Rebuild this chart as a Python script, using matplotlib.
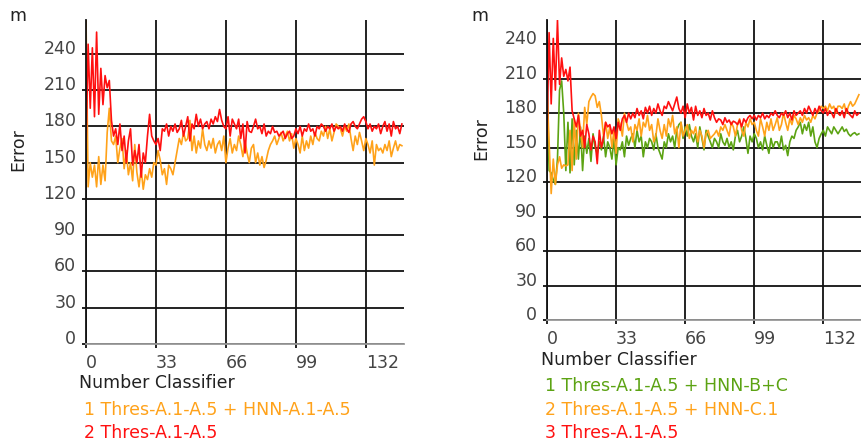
import matplotlib
matplotlib.use('Agg')
import matplotlib.pyplot as plt

# x positions: number of classifiers
x_left = list(range(150))
x_right = list(range(150))

# left chart
left_hnn = [
    270, 130, 150, 138, 148, 130, 155, 132, 148, 135,
    175, 195, 168, 165, 172, 150, 162, 170, 145, 160,
    140, 150, 135, 165, 142, 130, 145, 128, 140, 136,
    145, 138, 150, 148, 160, 152, 140, 145, 132, 148,
    145, 140, 150, 160, 170, 165, 175, 168, 170, 185,
    160, 172, 158, 168, 162, 178, 165, 160, 168, 162,
    170, 158, 165, 168, 160, 172, 150, 162, 170, 158,
    165, 160, 172, 165, 155, 168, 158, 150, 162, 165,
    150, 158, 148, 155, 146, 152, 160, 165, 168, 172,
    165, 170, 175, 168, 172, 176, 168, 174, 162, 170,
    165, 158, 172, 160, 168, 162, 172, 165, 175, 170,
    168, 176, 172, 180, 170, 178, 168, 175, 182, 180,
    178, 172, 180, 176, 182, 170, 160, 172, 165, 175,
    168, 160, 170, 165, 158, 168, 148, 165, 160, 162,
    158, 165, 160, 168, 155, 162, 168, 160, 165, 164,
]
left_thres = [
    162, 248, 195, 245, 188, 258, 190, 228, 198, 222,
    212, 218, 185, 172, 178, 165, 182, 160, 172, 150,
    168, 178, 148, 160, 150, 165, 138, 158, 150, 172,
    190, 172, 168, 165, 170, 160, 178, 176, 182, 172,
    180, 176, 182, 175, 178, 185, 172, 180, 188, 168,
    182, 178, 190, 180, 186, 178, 182, 184, 178, 186,
    182, 188, 184, 194, 185, 180, 178, 188, 172, 186,
    182, 178, 186, 170, 182, 158, 184, 176, 175, 180,
    186, 178, 180, 174, 182, 172, 176, 174, 180, 175,
    176, 172, 174, 176, 170, 174, 176, 170, 172, 178,
    174, 180, 172, 178, 176, 182, 176, 178, 172, 180,
    178, 182, 180, 176, 180, 178, 182, 176, 180, 178,
    180, 176, 182, 178, 175, 182, 184, 180, 178, 182,
    186, 188, 184, 178, 182, 176, 180, 178, 182, 174,
    180, 184, 176, 182, 172, 184, 178, 180, 174, 182,
]

# right chart
right_bc = [
    210, 130, 128, 122, 118, 140, 200, 208, 180, 130,
    172, 128, 175, 135, 165, 140, 168, 130, 160, 145,
    158, 138, 162, 150, 145, 155, 148, 160, 142, 155,
    150, 140, 158, 135, 150, 148, 155, 142, 160, 152,
    158, 162, 150, 165, 155, 160, 142, 155, 150, 158,
    155, 148, 162, 150, 145, 140, 155, 150, 162, 155,
    160, 150, 165, 170, 172, 158, 168, 160, 170, 160,
    155, 162, 150, 168, 158, 148, 165, 160, 155, 150,
    158, 155, 150, 162, 155, 152, 158, 150, 155, 148,
    160, 165, 155, 160, 168, 158, 145, 160, 155, 162,
    158, 150, 155, 148, 160, 152, 145, 158, 150, 155,
    155, 150, 160, 148, 152, 143, 155, 160, 158, 165,
    168, 172, 162, 170, 165, 172, 160, 168, 155, 150,
    158, 162, 165, 160, 168, 165, 162, 168, 165, 162,
    165, 168, 164, 166, 162, 160, 162, 163, 161, 162,
]
right_c1 = [
    200, 155, 110, 140, 118, 135, 142, 132, 135, 134,
    135, 165, 130, 175, 140, 180, 165, 150, 185, 170,
    190, 194, 197, 195, 185, 190, 178, 160, 172, 158,
    168, 150, 165, 145, 175, 170, 160, 180, 172, 165,
    168, 155, 170, 165, 175, 160, 172, 168, 178, 165,
    170, 155, 160, 175, 165, 158, 170, 160, 175, 168,
    178, 162, 168, 150, 172, 160, 165, 170, 158, 165,
    162, 168, 155, 165, 160, 150, 162, 165, 158, 160,
    162, 165, 160, 168, 165, 170, 165, 160, 172, 168,
    160, 170, 175, 165, 160, 172, 168, 175, 170, 172,
    165, 160, 175, 168, 160, 172, 165, 175, 165, 170,
    176, 165, 170, 180, 172, 165, 175, 170, 178, 175,
    170, 176, 172, 178, 174, 176, 172, 178, 175, 180,
    182, 186, 184, 186, 182, 188, 184, 186, 180, 186,
    186, 184, 188, 180, 186, 190, 186, 188, 192, 196,
]
right_thres = [
    160, 250, 188, 245, 200, 261, 205, 228, 212, 218,
    208, 220, 182, 175, 168, 178, 160, 165, 150, 170,
    162, 148, 160, 155, 136, 165, 150, 158, 172, 168,
    170, 162, 168, 158, 172, 165, 175, 178, 172, 180,
    175, 180, 176, 184, 178, 182, 175, 185, 180, 186,
    178, 184, 180, 188, 182, 178, 186, 184, 190, 186,
    182, 188, 194, 184, 180, 186, 176, 188, 180, 185,
    174, 186, 178, 182, 176, 184, 178, 180, 174, 182,
    176, 172, 175, 174, 170, 176, 172, 174, 170, 173,
    172, 170, 174, 168, 175, 172, 176, 178, 175, 178,
    174, 178, 176, 180, 175, 178, 176, 180, 178, 182,
    178, 176, 180, 178, 182, 176, 180, 174, 182, 178,
    180, 182, 178, 184, 180, 186, 182, 178, 184, 180,
    186, 182, 180, 184, 178, 182, 180, 176, 184, 180,
    178, 182, 176, 184, 180, 178, 176, 182, 178, 180,
]

x_ticks = [0, 33, 66, 99, 132]
y_ticks = [0, 30, 60, 90, 120, 150, 180, 210, 240]

GREEN = '#5ca313'
ORANGE = '#ffa21a'
RED = '#ff1010'
FS = 12.5

W, H = 861, 442
fig = plt.figure(figsize=(W / 100, H / 100), dpi=100)


def fx(x):
    return x / W


def fy(y):
    return 1 - y / H


def make_axes(left, top, right, bottom, ymax):
    ax = fig.add_axes([fx(left), fy(bottom), fx(right - left), (bottom - top) / H])
    ax.set_xlim(0, 150)
    ax.set_ylim(0, ymax)
    ax.set_xticks(x_ticks, [str(t) for t in x_ticks])
    ax.set_yticks(y_ticks, [str(t) for t in y_ticks])
    ax.grid(True, color='#111111', linewidth=1.3)
    ax.set_axisbelow(True)
    for s in ['top', 'right']:
        ax.spines[s].set_visible(False)
    ax.spines['left'].set_color('#111111')
    ax.spines['left'].set_linewidth(1.3)
    ax.spines['bottom'].set_color('#999999')
    ax.spines['bottom'].set_linewidth(1.3)
    ax.tick_params(axis='both', colors='#111111', labelcolor='#444444',
                   labelsize=FS, length=3, width=1.3)
    ax.tick_params(axis='y', pad=4)
    ax.tick_params(axis='x', pad=4)
    for lbl in ax.get_yticklabels():
        lbl.set_verticalalignment('baseline')
    for lbl in ax.get_xticklabels():
        lbl.set_horizontalalignment('left')
    return ax


ax1 = make_axes(86, 20, 404, 344, 268)
ax1.plot(x_left, left_hnn, color=ORANGE, lw=1.2)
ax1.plot(x_left, left_thres, color=RED, lw=1.2)

ax2 = make_axes(547, 20, 861, 320, 261)
ax2.plot(x_right, right_bc, color=GREEN, lw=1.2)
ax2.plot(x_right, right_c1, color=ORANGE, lw=1.2)
ax2.plot(x_right, right_thres, color=RED, lw=1.2)

# axis texts
fig.text(fx(18), fy(16), 'm', fontsize=FS, color='#222222', ha='center', va='center')
fig.text(fx(480), fy(16), 'm', fontsize=FS, color='#222222', ha='center', va='center')
fig.text(fx(18), fy(150), 'Error', fontsize=FS, color='#222222', rotation=90,
         ha='center', va='center')
fig.text(fx(481), fy(139), 'Error', fontsize=FS, color='#222222', rotation=90,
         ha='center', va='center')
fig.text(fx(79), fy(383), 'Number Classifier', fontsize=FS, color='#222222', va='center')
fig.text(fx(541), fy(360), 'Number Classifier', fontsize=FS, color='#222222', va='center')

# legends
fig.text(fx(84), fy(410), '1 Thres-A.1-A.5 + HNN-A.1-A.5', fontsize=FS, color=ORANGE, va='center')
fig.text(fx(84), fy(433), '2 Thres-A.1-A.5', fontsize=FS, color=RED, va='center')
fig.text(fx(545), fy(386), '1 Thres-A.1-A.5 + HNN-B+C', fontsize=FS, color=GREEN, va='center')
fig.text(fx(545), fy(410), '2 Thres-A.1-A.5 + HNN-C.1', fontsize=FS, color=ORANGE, va='center')
fig.text(fx(545), fy(433), '3 Thres-A.1-A.5', fontsize=FS, color=RED, va='center')

fig.savefig('out.png', dpi=100)
